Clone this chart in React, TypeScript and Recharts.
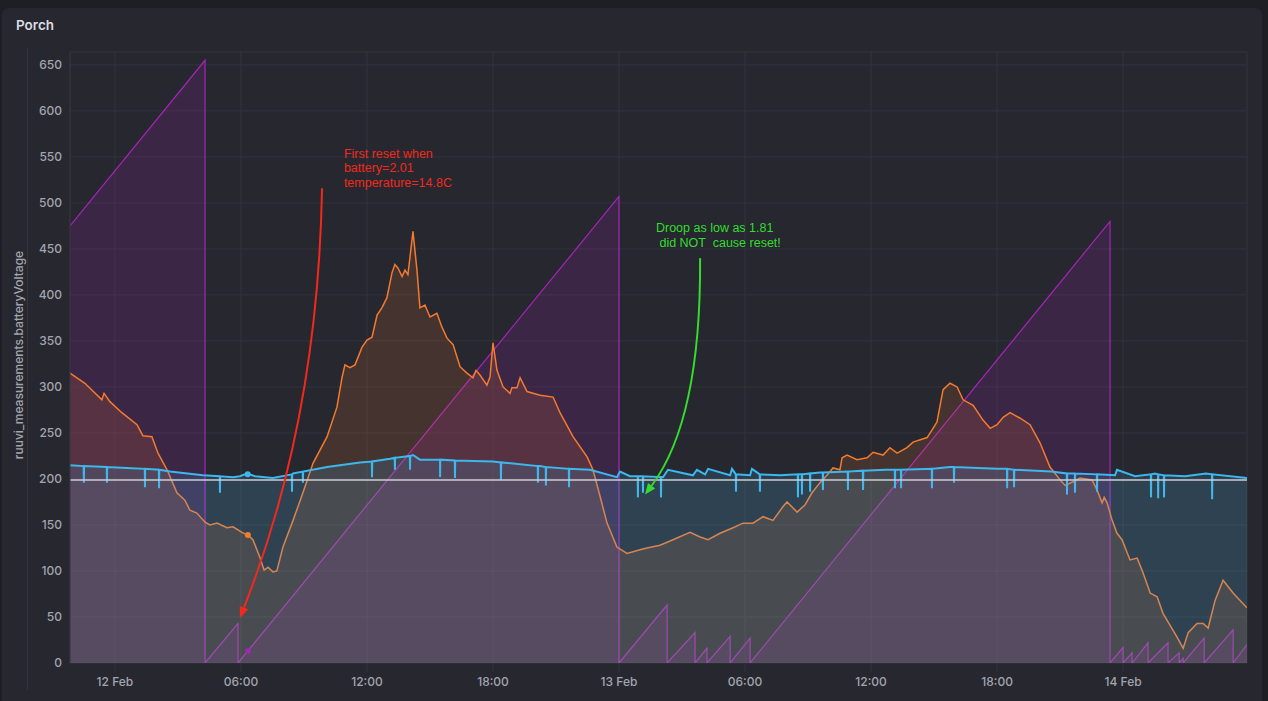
import { Area, CartesianGrid, ComposedChart, ReferenceDot, ReferenceLine, XAxis, YAxis } from "recharts";

// time axis is hours since 12 Feb 00:00
const X_DOMAIN = [-2.14, 53.9];
const X_TICKS = [0, 6, 12, 18, 24, 30, 36, 42, 48];
const X_TICK_LABELS = ["12 Feb", "06:00", "12:00", "18:00", "13 Feb", "06:00", "12:00", "18:00", "14 Feb"];
const Y_TICKS = [0, 50, 100, 150, 200, 250, 300, 350, 400, 450, 500, 550, 600, 650];

// purple sawtooth (uptime counter)
const uptimeHours = [
  -2.14, 4.29, 4.29, 5.86, 5.86, 24.0, 24.0, 26.29, 26.29, 27.62, 27.62, 28.19, 28.19, 29.29, 29.29,
  30.24, 30.24, 47.38, 47.38, 48.0, 48.0, 48.43, 48.43, 49.19, 49.19, 50.14, 50.14, 50.67, 50.67,
  50.86, 50.86, 51.86, 51.86, 53.24, 53.24, 53.9,
];
const uptimeValues = [
  475, 655, 0, 43, 0, 507, 0, 63, 0, 33, 0, 16, 0, 29, 0,
  27, 0, 480, 0, 17, 0, 11, 0, 22, 0, 22, 0, 11, 0,
  5, 0, 27, 0, 36, 0, 20,
];

// orange series
const tempHours = [
  -2.14, -1.43, -0.62, -0.52, -0.24, 0.33, 1.05, 1.33, 1.76, 2.05, 2.48, 2.95, 3.33, 3.57, 3.9, 4.29,
  4.52, 4.86, 5.33, 5.62, 6.05, 6.33, 6.57, 6.9, 7.1, 7.29, 7.52, 7.71, 8.0, 8.48, 8.95, 9.43, 10.1,
  10.57, 10.81, 10.95, 11.19, 11.43, 11.76, 12.0, 12.24, 12.48, 12.71, 12.95, 13.19, 13.33, 13.48,
  13.67, 13.81, 13.95, 14.19, 14.38, 14.52, 14.76, 15.0, 15.33, 15.57, 15.81, 16.1, 16.43, 16.76,
  17.05, 17.19, 17.38, 17.71, 17.86, 18.0, 18.19, 18.48, 18.81, 18.9, 19.14, 19.29, 19.62, 20.24,
  20.86, 21.19, 21.81, 22.48, 22.76, 23.1, 23.43, 23.9, 24.38, 24.67, 25.0, 25.33, 25.95, 26.57,
  27.38, 27.86, 28.24, 28.81, 29.43, 29.9, 30.38, 30.86, 31.33, 31.81, 32.0, 32.48, 32.86, 33.19,
  33.57, 33.9, 34.19, 34.52, 34.62, 34.86, 35.33, 35.81, 36.1, 36.57, 36.9, 37.24, 37.71, 38.0,
  38.67, 38.9, 39.14, 39.43, 39.76, 40.1, 40.38, 40.86, 41.33, 41.67, 42.0, 42.29, 42.62, 43.1,
  43.57, 44.05, 44.52, 45.0, 45.24, 45.62, 45.95, 46.52, 46.76, 47.0, 47.1, 47.24, 47.48, 47.71,
  47.95, 48.33, 48.67, 48.95, 49.29, 49.62, 49.9, 50.57, 50.86, 51.1, 51.52, 51.81, 52.05, 52.38,
  52.76, 53.24, 53.57, 53.9,
];
const tempValues = [
  315, 304, 286, 293, 284, 272, 259, 247, 246, 228, 210, 185, 177, 166, 163, 153,
  150, 152, 147, 148, 142, 139, 134, 115, 101, 104, 99, 100, 126, 155, 185, 217, 246,
  278, 310, 324, 321, 324, 343, 351, 354, 378, 386, 397, 424, 433, 429,
  420, 427, 422, 469, 427, 386, 389, 376, 380, 365, 353, 346, 322, 315,
  310, 318, 313, 302, 311, 348, 318, 300, 293, 299, 299, 310, 295, 291,
  289, 272, 246, 224, 210, 181, 152, 126, 119, 121, 123, 125, 128, 134,
  142, 137, 134, 141, 147, 152, 152, 159, 155, 170, 175, 164, 172, 185,
  196, 204, 212, 210, 223, 226, 221, 223, 229, 226, 234, 228, 234, 240,
  245, 253, 262, 297, 304, 300, 286, 280, 264, 255, 259, 267, 272, 266,
  259, 239, 213, 199, 193, 197, 201, 199, 188, 174, 180, 174, 155, 141,
  134, 112, 114, 98, 76, 72, 54, 28, 16, 33, 43, 43, 38, 68,
  90, 76, 68, 60,
];

// blue series (battery voltage), slow trend
const batteryHours = [
  -2.14, 0.57, 2.62, 4.19, 5.62, 5.95, 6.29, 6.67, 7.52, 8.48, 10.1, 11.67, 13.1, 14.19, 14.52, 15.48,
  18.0, 20.24, 22.62, 23.9, 24.05, 24.52, 26.1, 26.33, 27.52, 27.71, 28.1, 28.24, 29.29, 29.38, 30.24,
  30.33, 31.67, 32.62, 33.57, 36.71, 39.29, 39.76, 42.0, 44.57, 47.62, 47.71, 48.57, 49.52, 50.95,
  51.95, 53.9,
];
const batteryValues = [
  215, 212, 208, 204, 202, 203, 206, 203, 201, 206, 213, 218, 222, 226, 221, 221,
  219, 214, 210, 202, 208, 203, 202, 210, 204, 210, 205, 211, 204, 211, 204,
  211, 204, 205, 207, 210, 212, 213, 211, 208, 204, 210, 203, 206, 203,
  206, 201,
];
// short downward drops: [hour, level, lowest]
const batteryDips = [
  [-1.48, 214, 196], [-0.38, 213, 196], [1.43, 211, 191], [2.1, 210, 190], [5.0, 203, 185],
  [8.43, 205, 186], [8.95, 208, 196], [12.24, 219, 202], [13.33, 223, 210], [14.05, 225, 210],
  [15.48, 221, 202], [16.19, 220, 201], [18.38, 218, 199], [20.14, 214, 196], [20.52, 213, 193],
  [21.62, 211, 191], [24.9, 203, 180], [25.14, 203, 185], [26.0, 202, 180], [29.57, 205, 186],
  [30.71, 205, 186], [32.52, 205, 180], [32.71, 205, 183], [33.1, 206, 186], [33.71, 207, 188],
  [34.9, 208, 188], [35.62, 209, 188], [37.14, 210, 190], [37.43, 210, 190], [38.9, 211, 190],
  [39.95, 213, 196], [42.48, 211, 190], [42.81, 210, 191], [45.33, 206, 183], [45.71, 206, 185],
  [46.76, 205, 186], [49.33, 205, 180], [49.67, 205, 179], [49.95, 204, 180], [52.24, 205, 178],
];

// pale horizontal series
const thresholdHours = [-2.14, 53.9];
const thresholdValues = [199, 199];

const COLORS = {
  page: "#1e1f25",
  panel: "#26272f",
  grid: "#33343d",
  tick: "#a3a5ae",
  title: "#dcdde3",
  purple: "#a624ba",
  orange: "#f47a2e",
  blue: "#3db7ec",
  white: "#cdcdd3",
  red: "#f2291c",
  green: "#33dc2e",
};

const toPoints = (hours: number[], values: number[]) => hours.map((t, i) => ({ t, v: values[i] }));

const uptime = toPoints(uptimeHours, uptimeValues);
const temperature = toPoints(tempHours, tempValues);
const threshold = toPoints(thresholdHours, thresholdValues);
const battery = [
  ...toPoints(batteryHours, batteryValues),
  ...batteryDips.flatMap(([t, top, low]) => [
    { t: t - 0.01, v: top },
    { t, v: low },
    { t: t + 0.01, v: top },
  ]),
].sort((a, b) => a.t - b.t);

const TICK_STYLE = { fontSize: 12, fill: COLORS.tick, fontFamily: "Inter, sans-serif", fontWeight: 500 };
const NOTE_FONT = "'Liberation Sans', Arial, sans-serif";

// quadratic arrow between the two segment ends, bend given as fraction of the span
function curvedArrow(color: string, bx: number, by: number) {
  return (props: any) => {
    const { x1, y1, x2, y2 } = props;
    const cx = x1 + bx * (x2 - x1);
    const cy = y1 + by * (y2 - y1);
    const dx = x2 - cx;
    const dy = y2 - cy;
    const len = Math.hypot(dx, dy);
    const ux = dx / len;
    const uy = dy / len;
    const head = 11;
    const bxh = x2 - ux * head;
    const byh = y2 - uy * head;
    return (
      <g>
        <path d={`M${x1},${y1} Q${cx},${cy} ${bxh},${byh}`} fill="none" stroke={color} strokeWidth={2} />
        <path
          d={`M${x2},${y2} L${bxh - uy * 4.5},${byh + ux * 4.5} L${bxh + uy * 4.5},${byh - ux * 4.5} Z`}
          fill={color}
        />
      </g>
    );
  };
}

function noteText(lines: string[], color: string) {
  return (props: any) => (
    <text x={props.cx} y={props.cy} fill={color} fontSize={12.5} fontFamily={NOTE_FONT} style={{ whiteSpace: "pre" }}>
      {lines.map((line, i) => (
        <tspan key={i} x={props.cx} dy={i === 0 ? 0 : 14.5}>
          {line}
        </tspan>
      ))}
    </text>
  );
}

export default function App() {
  return (
    <div style={{ position: "relative", width: 1268, height: 701, background: COLORS.page, overflow: "hidden" }}>
      <style>{"body{margin:0}"}</style>
      <div
        style={{
          position: "absolute",
          left: 2,
          top: 8,
          width: 1260,
          height: 720,
          background: COLORS.panel,
          borderRadius: 6,
        }}
      />
      <div
        style={{
          position: "absolute",
          left: 16,
          top: 17,
          fontFamily: "Inter, sans-serif",
          fontWeight: 600,
          fontSize: 13.5,
          color: COLORS.title,
        }}
      >
        Porch
      </div>
      <div style={{ position: "absolute", left: 27, top: 48, width: 1, height: 642, background: COLORS.grid }} />
      <div
        style={{
          position: "absolute",
          left: 18,
          top: 355,
          transform: "translate(-50%, -50%) rotate(-90deg)",
          whiteSpace: "nowrap",
          fontFamily: "Inter, sans-serif",
          fontWeight: 500,
          fontSize: 12,
          color: COLORS.tick,
        }}
      >
        ruuvi_measurements.batteryVoltage
      </div>
      <div style={{ position: "absolute", left: 0, top: 0 }}>
        <ComposedChart width={1268} height={701} margin={{ top: 52, right: 21, bottom: 0, left: 0 }}>
          <CartesianGrid stroke={COLORS.grid} />
          <XAxis
            type="number"
            dataKey="t"
            domain={X_DOMAIN}
            allowDataOverflow
            ticks={X_TICKS}
            interval={0}
            tickFormatter={(v) => X_TICK_LABELS[X_TICKS.indexOf(v)] ?? ""}
            tick={TICK_STYLE}
            tickLine={{ stroke: COLORS.grid }}
            tickSize={9}
            tickMargin={5}
            axisLine={false}
            height={38}
          />
          <YAxis
            type="number"
            domain={[0, 664]}
            allowDataOverflow
            ticks={Y_TICKS}
            interval={0}
            tick={TICK_STYLE}
            tickLine={false}
            axisLine={{ stroke: COLORS.grid }}
            width={70}
          />
          <Area
            data={uptime}
            dataKey="v"
            type="linear"
            stroke={COLORS.purple}
            strokeWidth={1.2}
            fill={COLORS.purple}
            fillOpacity={0.17}
            dot={false}
            activeDot={false}
            isAnimationActive={false}
          />
          <Area
            data={temperature}
            dataKey="v"
            type="linear"
            stroke={COLORS.orange}
            strokeWidth={1.5}
            fill={COLORS.orange}
            fillOpacity={0.15}
            dot={false}
            activeDot={false}
            isAnimationActive={false}
          />
          <Area
            data={battery}
            dataKey="v"
            type="linear"
            stroke={COLORS.blue}
            strokeWidth={2}
            fill={COLORS.blue}
            fillOpacity={0.16}
            dot={false}
            activeDot={false}
            isAnimationActive={false}
          />
          <Area
            data={threshold}
            dataKey="v"
            type="linear"
            stroke={COLORS.white}
            strokeWidth={1.5}
            fill={COLORS.white}
            fillOpacity={0.04}
            dot={false}
            activeDot={false}
            isAnimationActive={false}
          />
          <ReferenceDot x={6.33} y={139} r={3} fill={COLORS.orange} stroke="none" />
          <ReferenceDot x={6.32} y={205} r={3} fill={COLORS.blue} stroke="none" />
          <ReferenceDot
            x={6.33}
            y={13}
            shape={(p: any) => <rect x={p.cx - 2.5} y={p.cy - 2.5} width={5} height={5} fill={COLORS.purple} />}
          />
          <ReferenceLine
            segment={[
              { x: 9.86, y: 516 },
              { x: 5.95, y: 49 },
            ]}
            shape={curvedArrow(COLORS.red, 0.05, 0.54)}
          />
          <ReferenceLine
            segment={[
              { x: 27.86, y: 440 },
              { x: 25.24, y: 183 },
            ]}
            shape={curvedArrow(COLORS.green, -0.02, 0.68)}
          />
          <ReferenceDot
            x={10.9}
            y={549}
            shape={noteText(["First reset when", "battery=2.01", "temperature=14.8C"], COLORS.red)}
          />
          <ReferenceDot
            x={25.76}
            y={468}
            shape={noteText(["Droop as low as 1.81", " did NOT  cause reset!"], COLORS.green)}
          />
        </ComposedChart>
      </div>
    </div>
  );
}
